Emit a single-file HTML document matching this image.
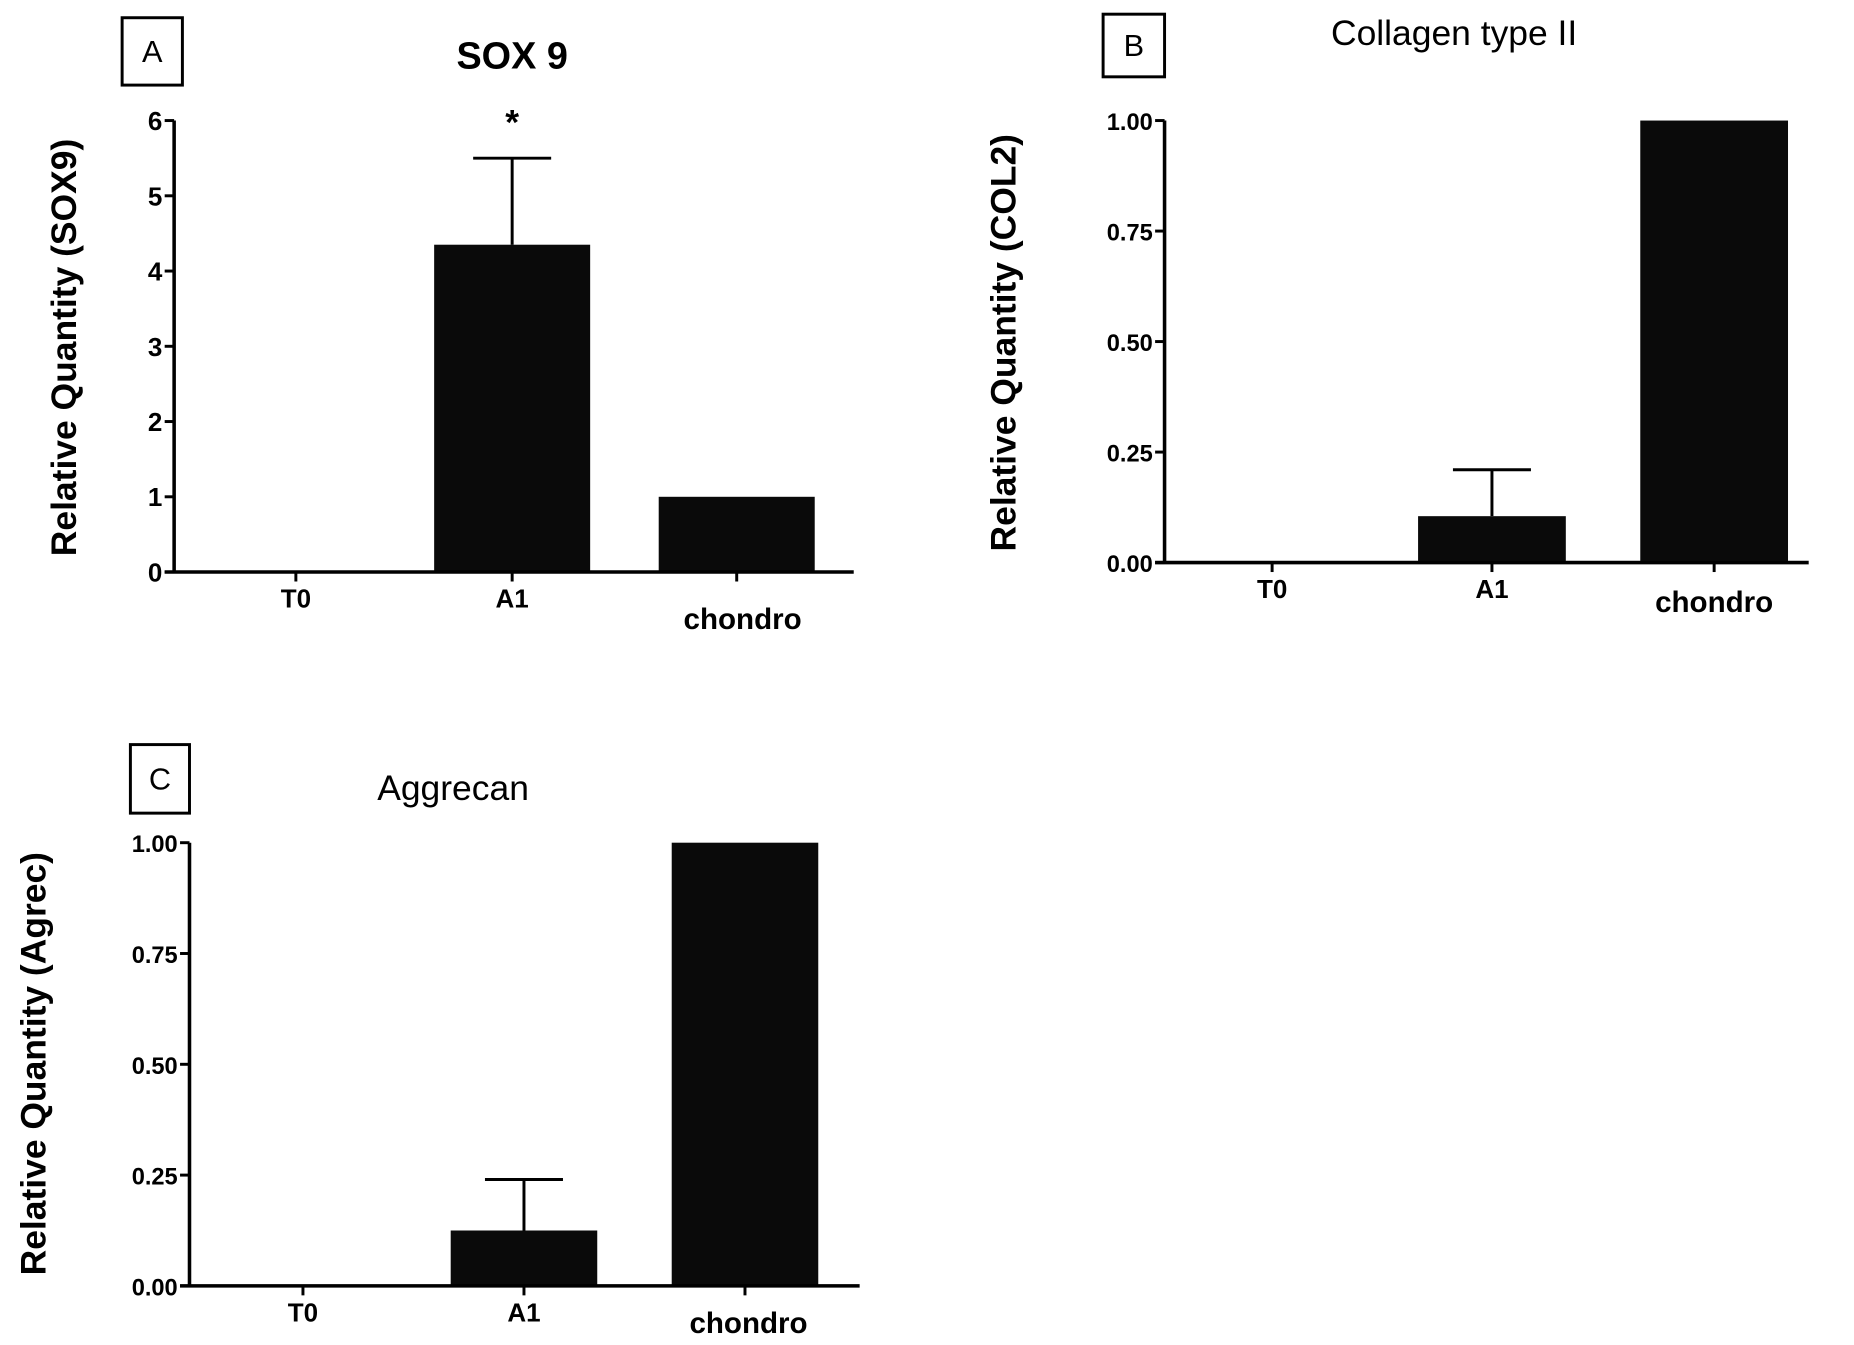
<!DOCTYPE html>
<html><head><meta charset="utf-8"><style>
html,body{margin:0;padding:0;background:#fff}
svg{display:block}
text{font-family:"Liberation Sans",Arial,sans-serif}
</style></head><body>
<svg id="fig" width="1854" height="1345" viewBox="0 0 1568 1138" xmlns="http://www.w3.org/2000/svg">
<rect width="1568" height="1138" fill="#fff"/>
</svg>
<script>
const categories = ["T0", "A1", "chondro"];
const sox9Values = [0, 4.35, 1.0];
const sox9Errors = [0, 1.15, 0];
const sox9Ticks = ["0","1","2","3","4","5","6"];
const col2Values = [0, 0.105, 1.0];
const col2Errors = [0, 0.105, 0];
const col2Ticks = ["0.00","0.25","0.50","0.75","1.00"];
const agrecValues = [0, 0.125, 1.0];
const agrecErrors = [0, 0.115, 0];
const agrecTicks = ["0.00","0.25","0.50","0.75","1.00"];

const NS = "http://www.w3.org/2000/svg";
const svg = document.getElementById('fig');
function mk(tag, attrs, parent, txt){
  const e = document.createElementNS(NS, tag);
  for (const k in attrs) e.setAttribute(k, attrs[k]);
  if (txt !== undefined) e.textContent = txt;
  (parent || svg).appendChild(e);
  return e;
}

function panel(cfg, values, errors, ticks){
  const g = mk('g', {});
  
  
  const yMax = parseFloat(ticks[ticks.length-1]);
  const y = v => cfg.y0 - (v / yMax) * (cfg.y0 - cfg.yTop);
  const barW = cfg.barW;
  const x = i => cfg.centers[i];
  const box = mk('rect', {x:cfg.box[0], y:cfg.box[1], width:cfg.box[2], height:cfg.box[3], fill:'#fff', stroke:'#000', 'stroke-width':2.5}, g);
  
  
  const lt = mk('text', {x:cfg.box[0]+cfg.box[2]/2, y:cfg.box[1]+cfg.box[3]/2+9, 'text-anchor':'middle', 'font-size':26}, g, cfg.letter);
  
  
  const tt = mk('text', {x:cfg.title[0], y:cfg.title[1], 'text-anchor':'middle', 'font-size':cfg.titleSize, 'font-weight':cfg.titleWeight}, g, cfg.titleText);
  
  
  values.forEach((v, i) => {
    if (v > 0) {
      const r = mk('rect', {x:x(i)-barW/2, y:y(v), width:barW, height:cfg.y0-y(v), fill:'#0a0a0a'}, g);
      
      
    }
    if (errors[i] > 0) {
      const eb = mk('path', {d:`M${x(i)} ${y(v)} V${y(v+errors[i])} M${x(i)-33} ${y(v+errors[i])} H${x(i)+33}`, stroke:'#000', 'stroke-width':2.5, fill:'none'}, g);
      
      
    }
  });
  const ya = mk('line', {x1:cfg.x0, y1:cfg.yTop, x2:cfg.x0, y2:cfg.y0, stroke:'#000', 'stroke-width':3}, g);
  
  
  const xa = mk('line', {x1:cfg.x0-8, y1:cfg.y0, x2:cfg.xEnd, y2:cfg.y0, stroke:'#000', 'stroke-width':3}, g);
  
  
  ticks.forEach(t => {
    const v = parseFloat(t);
    mk('line', {x1:cfg.x0-8, y1:y(v), x2:cfg.x0, y2:y(v), stroke:'#000', 'stroke-width':2.5}, g);
    const tl = mk('text', {x:cfg.x0-10, y:y(v)+8, 'text-anchor':'end', 'font-size':cfg.tickSize, 'font-weight':'bold'}, g, t);
    
    
  });
  categories.forEach((c, i) => {
    mk('line', {x1:x(i), y1:cfg.y0, x2:x(i), y2:cfg.y0+8, stroke:'#000', 'stroke-width':2.5}, g);
    const big = c === 'chondro';
    const cl = mk('text', {x:big ? cfg.chondroX : x(i), y:cfg.y0 + (big ? cfg.chondroDy : 30), 'text-anchor':'middle', 'font-size': big ? 25 : 22, 'font-weight':'bold'}, g, c);
    
    
  });
  const yt = mk('text', {x:0, y:0, transform:`translate(${cfg.yTitle[0]},${cfg.yTitle[1]}) rotate(-90)`, 'text-anchor':'middle', 'font-size':30, 'font-weight':'bold'}, g, cfg.yTitleText);
  
  
  return {g, y, x};
}

const A = panel({name:'panel-a-sox9', letter:'A', box:[103,15,51,57], title:[433,58], titleText:'SOX 9', titleSize:32, titleWeight:'bold', tickSize:22,
  x0:147, xEnd:722, y0:484, yTop:102, centers:[250,433,623], chondroX:628, barW:132, chondroDy:48, yTitle:[64,294], yTitleText:'Relative Quantity (SOX9)'},
  sox9Values, sox9Errors, sox9Ticks);
const star = mk('text', {x:433, y:114, 'text-anchor':'middle', 'font-size':30, 'font-weight':'bold'}, A.g, '*');



panel({name:'panel-b-col2', letter:'B', box:[933,12,52,53], title:[1230,38], titleText:'Collagen type II', titleSize:30, titleWeight:'normal', tickSize:20,
  x0:985, xEnd:1530, y0:476, yTop:102, centers:[1076,1262,1450], chondroX:1450, barW:125, chondroDy:42, yTitle:[859,290], yTitleText:'Relative Quantity (COL2)'},
  col2Values, col2Errors, col2Ticks);

panel({name:'panel-c-aggrecan', letter:'C', box:[110,630,50,58], title:[383,677], titleText:'Aggrecan', titleSize:30, titleWeight:'normal', tickSize:20,
  x0:160, xEnd:727, y0:1088, yTop:713, centers:[256,443,630], chondroX:633, barW:124, chondroDy:40, yTitle:[38,900], yTitleText:'Relative Quantity (Agrec)'},
  agrecValues, agrecErrors, agrecTicks);
</script>
</body></html>
